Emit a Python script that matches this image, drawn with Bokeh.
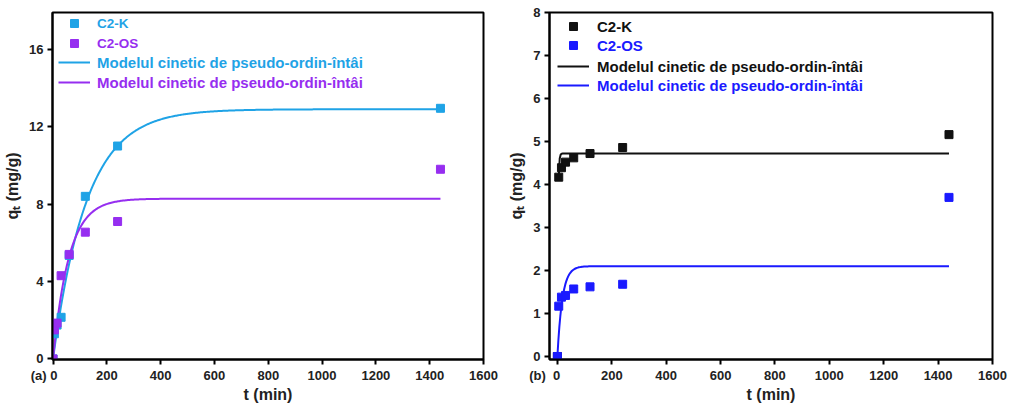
import numpy as np
from bokeh.plotting import figure
from bokeh.layouts import row
from bokeh.models import Range1d, FixedTicker, Legend, LegendItem
from bokeh.embed import file_html
from bokeh.resources import INLINE

# ---------------- data (a) ----------------
t_a = [0, 5, 15, 30, 60, 120, 240, 1440]
q_k_a = [0, 1.3, 1.75, 2.15, 5.35, 8.4, 11.0, 12.95]
q_os_a = [0, 1.5, 1.85, 4.3, 5.4, 6.55, 7.1, 9.8]
# pseudo-first-order model parameters (a)
qe_k_a, k1_k_a = 12.9, 0.008
qe_os_a, k1_os_a = 8.28, 0.017

# ---------------- data (b) ----------------
t_b = [0, 5, 15, 30, 60, 120, 240, 1440]
q_k_b = [0, 4.17, 4.39, 4.52, 4.62, 4.72, 4.86, 5.16]
q_os_b = [0, 1.17, 1.38, 1.42, 1.57, 1.62, 1.68, 3.70]
# pseudo-first-order model parameters (b)
qe_k_b, k1_k_b, tstart_k_b = 4.72, 0.43, 5
qe_os_b, k1_os_b = 2.1, 0.055

x_ticks = [0, 200, 400, 600, 800, 1000, 1200, 1400, 1600]
y_ticks_a = [0, 4, 8, 12, 16]
y_ticks_b = [0, 1, 2, 3, 4, 5, 6, 7, 8]
model_label = "Modelul cinetic de pseudo-ordin-întâi"
NB = "\u00a0"
panel_a = "(a)" + NB + "0" + NB * 5
panel_b = "(b)" + NB * 2 + "0" + NB * 7

C_LB = "#1fa3e6"
C_PU = "#962ef0"
C_BK = "#111111"
C_BL = "#1a1aff"

FONT = "Liberation Sans"


def model(qe, k, t0=0.0, t1=1440.0, n=400):
    t = np.linspace(t0, t1, n)
    return t, qe * (1 - np.exp(-k * t))


def style(p, yt, zero_label):
    p.xaxis.ticker = FixedTicker(ticks=x_ticks)
    p.yaxis.ticker = FixedTicker(ticks=yt)
    p.xaxis.major_label_overrides = {0: zero_label}
    for ax in (p.xaxis, p.yaxis):
        ax.axis_line_width = 2
        ax.axis_line_color = "black"
        ax.major_tick_line_width = 2
        ax.major_tick_out = 5
        ax.major_tick_in = 0
        ax.minor_tick_line_color = None
        ax.major_label_text_font = FONT
        ax.major_label_text_font_style = "bold"
        ax.major_label_text_font_size = "13px"
        ax.major_label_text_color = "#222222"
        ax.axis_label_text_font = FONT
        ax.axis_label_text_font_style = "bold"
        ax.axis_label_text_font_size = "16px"
        ax.axis_label_text_color = "#222222"
        ax.major_label_standoff = 4
    p.xaxis.major_label_standoff = 3
    p.xaxis.axis_label = "t (min)"
    p.yaxis.axis_label = "qₜ (mg/g)"
    p.xaxis.axis_label_standoff = 0
    p.yaxis.axis_label_standoff = 5
    p.xgrid.visible = False
    p.ygrid.visible = False
    p.outline_line_color = "black"
    p.outline_line_width = 2
    p.outline_line_alpha = 1.0


def add_legends(p, items, x0, centers, frame_h, frame_top, standoff):
    for (label, rends, color, fs), c in zip(items, centers):
        h = 20
        y = frame_h - (c - frame_top) - h / 2
        lg = Legend(items=[LegendItem(label=label, renderers=rends)],
                    location=(x0, y), padding=0, margin=0, spacing=0,
                    glyph_width=32, glyph_height=h, label_height=h,
                    label_standoff=standoff, border_line_color=None,
                    background_fill_alpha=0,
                    label_text_font=FONT, label_text_font_style="bold",
                    label_text_font_size=fs, label_text_color=color)
        p.add_layout(lg, "center")


H = 412
TOP = 12
BOT_A = 53
BOT_B = 53

# ---------------- figure (a) ----------------
p1 = figure(width=505, height=H, output_backend="svg", toolbar_location=None,
            x_range=Range1d(-2, 1600), y_range=Range1d(-0.03, 17.9),
            min_border_left=52, min_border_right=22, min_border_top=TOP,
            min_border_bottom=BOT_A)
style(p1, y_ticks_a, panel_a)
tm, qm = model(qe_k_a, k1_k_a)
l1 = p1.line(tm, qm, line_color=C_LB, line_width=2)
tm, qm = model(qe_os_a, k1_os_a)
l2 = p1.line(tm, qm, line_color=C_PU, line_width=2)
s1 = p1.scatter(t_a, q_k_a, marker="square", size=8, color=C_LB)
s2 = p1.scatter(t_a, q_os_a, marker="square", size=8, color=C_PU)
add_legends(p1, [("C2-K", [s1], C_LB, "13.5px"), ("C2-OS", [s2], C_PU, "13.5px"),
                 (model_label, [l1], C_LB, "15px"), (model_label, [l2], C_PU, "15px")],
            6, [23, 43, 62, 82], H - TOP - BOT_A, TOP, 7)

# ---------------- figure (b) ----------------
p2 = figure(width=505, height=H, output_backend="svg", toolbar_location=None,
            x_range=Range1d(-29, 1600), y_range=Range1d(-0.07, 8.0),
            min_border_left=40, min_border_right=18, min_border_top=TOP,
            min_border_bottom=BOT_B)
style(p2, y_ticks_b, panel_b)
tm, qm = model(qe_k_b, k1_k_b, t0=tstart_k_b)
l3 = p2.line(tm, qm, line_color=C_BK, line_width=2)
tm, qm = model(qe_os_b, k1_os_b)
l4 = p2.line(tm, qm, line_color=C_BL, line_width=2)
s3 = p2.scatter(t_b, q_k_b, marker="square", size=8, color=C_BK)
s4 = p2.scatter(t_b, q_os_b, marker="square", size=8, color=C_BL)
add_legends(p2, [("C2-K", [s3], C_BK, "15px"), ("C2-OS", [s4], C_BL, "15px"),
                 (model_label, [l3], C_BK, "15px"), (model_label, [l4], C_BL, "15px")],
            8, [26, 45, 66, 85], H - TOP - BOT_B, TOP, 8)

layout = row(p1, p2)
open("out.html", "w").write(file_html(layout, INLINE))
